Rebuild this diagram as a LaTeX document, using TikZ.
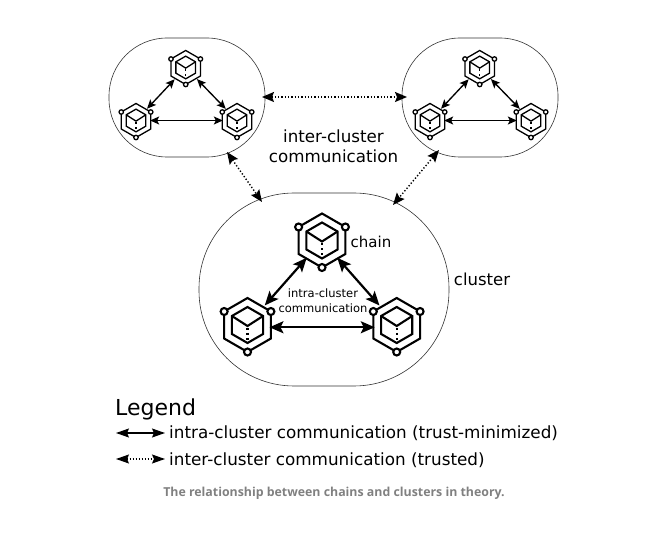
\documentclass[tikz,border=0pt]{standalone}
\usepackage{fontspec}
\setmainfont{DejaVu Sans}
\newfontfamily\capfont{Open Sans}
\usetikzlibrary{arrows.meta,positioning}

\tikzset{
  cluster/.style={draw=black!80,line width=0.6pt,rectangle,fill=none,inner sep=0pt},
  hub/.style={circle,draw=none,inner sep=0pt,minimum size=50pt,transform shape},
  link/.style={{Stealth[length=14pt,width=12pt,inset=3pt]}-{Stealth[length=14pt,width=12pt,inset=3pt]},line width=2.2pt},
  smalllink/.style={{Stealth[length=9pt,width=8pt,inset=2pt]}-{Stealth[length=9pt,width=8pt,inset=2pt]},line width=1.35pt},
  trusted/.style={{Stealth[length=12pt,width=10pt,inset=2pt]}-{Stealth[length=12pt,width=10pt,inset=2pt]},line width=1.4pt,dash pattern=on 1.3pt off 2pt},
  legendlink/.style={{Stealth[length=13pt,width=9pt,inset=2pt]}-{Stealth[length=13pt,width=9pt,inset=2pt]},line width=1.2pt},
  chainicon/.pic={
    \node[hub] (-hub) at (0,0) {};
    \draw[line join=miter] (90:27) -- (150:27) -- (210:27) -- (270:27) -- (330:27) -- (30:27) -- cycle;
    \draw[line join=miter] (90:18) -- (150:18) -- (210:18) -- (270:18) -- (330:18) -- (30:18) -- cycle;
    \draw (150:18) -- (0,-1) -- (30:18);
    \draw[dash pattern=on 2pt off 3pt] (0,-3) -- (270:18);
    \foreach \a in {30,150,270}
      \draw[fill=white] (\a:27) circle (3.5);
  }
}

\begin{document}
\begin{tikzpicture}[x=1pt,y=1pt]
  \useasboundingbox (0,0) rectangle (672,544);

  % clusters
  \node[cluster,minimum width=156pt,minimum height=119pt,rounded corners=58pt] (cl) at (187,446.5) {};
  \node[cluster,minimum width=156pt,minimum height=119pt,rounded corners=58pt] (cr) at (480,446.5) {};
  \node[cluster,minimum width=250pt,minimum height=193pt,rounded corners=95pt] (cb) at (324,254.5) {};

  % chains
  \pic[scale=0.63,line width=1.3pt] (lt) at (185.7,476.5) {chainicon};
  \pic[scale=0.63,line width=1.3pt] (ll) at (136,423.5) {chainicon};
  \pic[scale=0.63,line width=1.3pt] (lr) at (237,423.5) {chainicon};
  \pic[scale=0.63,line width=1.3pt] (rt) at (479.7,476.5) {chainicon};
  \pic[scale=0.63,line width=1.3pt] (rl) at (430,423.5) {chainicon};
  \pic[scale=0.63,line width=1.3pt] (rr) at (531,423.5) {chainicon};
  \pic[line width=2.1pt] (bt) at (322,303.5) {chainicon};
  \pic[line width=2.1pt] (bl) at (247.5,219) {chainicon};
  \pic[line width=2.1pt] (br) at (396.7,219) {chainicon};

  \draw[smalllink] (lt-hub) to (ll-hub);
  \draw[smalllink] (lt-hub) to (lr-hub);
  \draw[smalllink,shorten <=-2pt,shorten >=-2pt] (ll-hub) to (lr-hub);
  \draw[smalllink] (rt-hub) to (rl-hub);
  \draw[smalllink] (rt-hub) to (rr-hub);
  \draw[smalllink,shorten <=-2pt,shorten >=-2pt] (rl-hub) to (rr-hub);
  \draw[link,shorten <=-3pt] (bt-hub) to (bl-hub);
  \draw[link,shorten <=-3pt] (bt-hub) to (br-hub);
  \draw[link,shorten <=-4pt,shorten >=-4pt] (bl-hub.-5) to (br-hub.-175);

  % ends of the inter-cluster links
  \coordinate (clE) at (262,447);
  \coordinate (crW) at (407,447);
  \coordinate (clS) at (227,392);
  \coordinate (bNW) at (262,342);
  \coordinate (crS) at (439,394);
  \coordinate (bNE) at (393,339);
  \draw[trusted] (clE) to (crW);
  \draw[trusted] (clS) to (bNW);
  \draw[trusted] (crS) to (bNE);

  % labels
  \node[font=\fontsize{16.7}{20}\selectfont,align=center] (inter) at (333.5,398) {inter-cluster\\communication};
  \node[font=\fontsize{15}{17}\selectfont] (chain) at (371,302) {chain};
  \node[font=\fontsize{16.5}{19}\selectfont] (clname) at (482,265) {cluster};
  \node[font=\fontsize{11.5}{14.5}\selectfont,align=center] (intra) at (323,243.5) {intra-cluster\\communication};

  % legend
  \node[font=\fontsize{22}{26}\selectfont,anchor=west,inner sep=0pt] (legend) at (115,135) {Legend};
  \coordinate (a1) at (116,111);
  \coordinate (a2) at (165,111);
  \coordinate (b1) at (116,85);
  \coordinate (b2) at (165,85);
  \draw[legendlink] (a1) to (a2);
  \draw[legendlink,dash pattern=on 1.2pt off 1.8pt] (b1) to (b2);
  \node[font=\fontsize{16.8}{20}\selectfont,anchor=west,inner sep=0pt] (t1) at (169,111) {intra-cluster communication (trust-minimized)};
  \node[font=\fontsize{16.8}{20}\selectfont,anchor=west,inner sep=0pt] (t2) at (169,84) {inter-cluster communication (trusted)};
  \node[font=\capfont\bfseries\fontsize{12.35}{14}\selectfont,text=black!50] (caption) at (334,51) {The relationship between chains and clusters in theory.};
\end{tikzpicture}
\end{document}
